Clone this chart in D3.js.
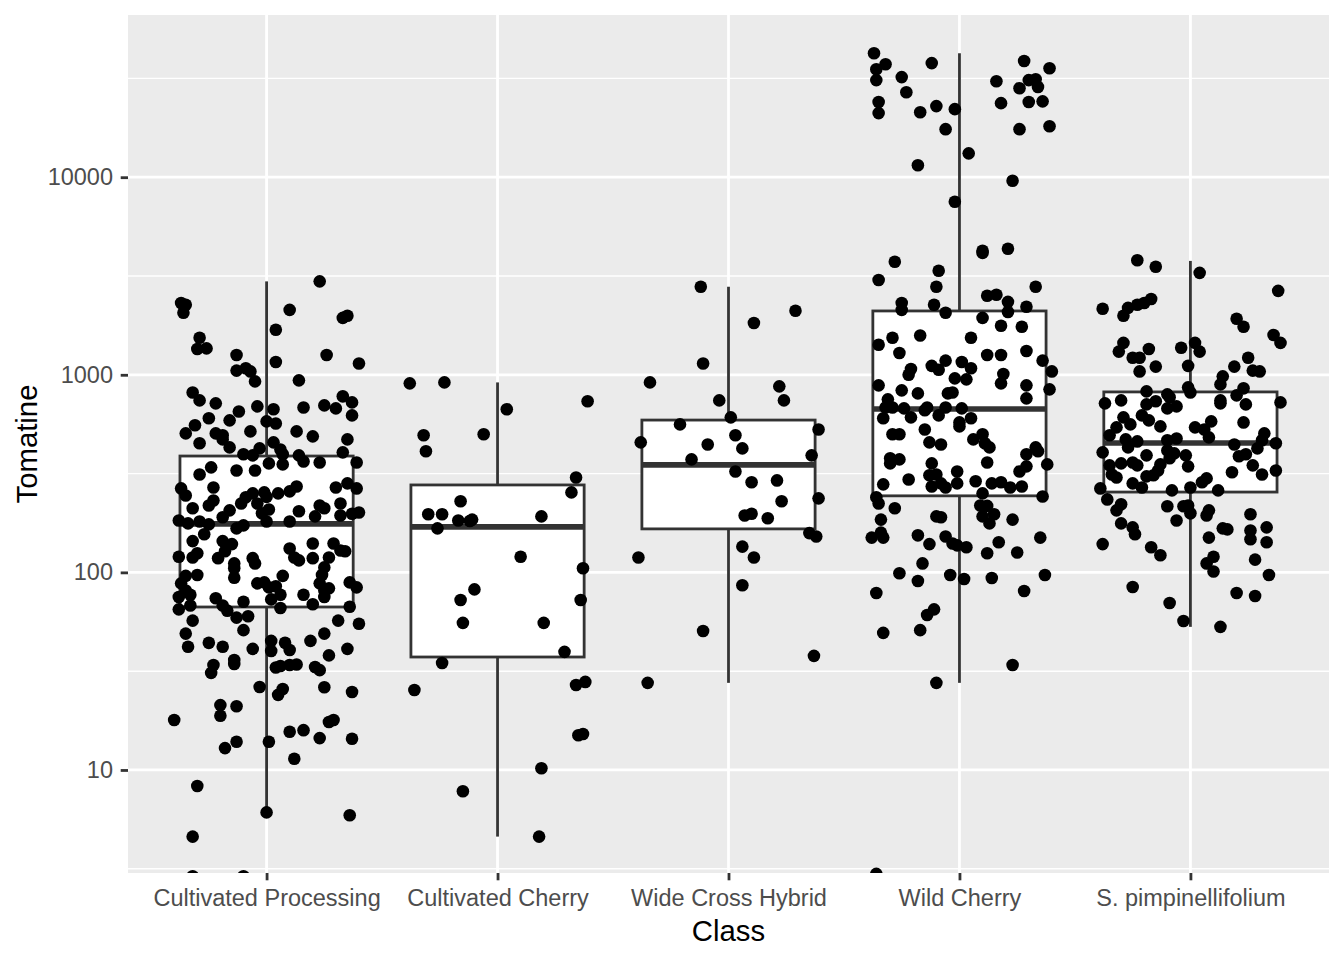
<!DOCTYPE html>
<html>
<head>
<meta charset="utf-8">
<script src="https://cdn.jsdelivr.net/npm/d3@7"></script>
<style>
  body { margin: 0; background: #ffffff; }
  #chart { width: 1344px; height: 960px; }
  .axis text { font-family: "Liberation Sans", Arial, sans-serif; font-size: 23.5px; fill: #4D4D4D; }
  .axis line { stroke: #333333; stroke-width: 2.8px; }
  .title { font-family: "Liberation Sans", Arial, sans-serif; font-size: 29.3px; fill: #000000; }
</style>
</head>
<body>
<div id="chart"></div>
<script>

// categories on the x axis
var classes = ["Cultivated Processing", "Cultivated Cherry", "Wide Cross Hybrid", "Wild Cherry", "S. pimpinellifolium"];

// y ticks (log scale)
var yTicks = [10, 100, 1000, 10000];
var yMinorTicks = [3.162, 31.62, 316.2, 3162, 31620];

// box summaries, one entry per class
var lowerWhisker = [6.1, 4.6, 27.6, 27.6, 53];
var lowerHinge   = [66.8, 37.3, 166, 244, 255];
var medians      = [176, 170, 350, 671, 452];
var upperHinge   = [388, 277, 590, 2104, 819];
var upperWhisker = [2970, 915, 2790, 42400, 3770];

// jittered points: [x jitter in class units, Tomatine]
var processingPoints = [
  [0.23,2970],[-0.37,2310],[-0.35,2260],[-0.36,2060],[0.10,2130],[0.33,1940],[0.35,1990],[0.04,1690],[-0.29,1540],[-0.30,1350],
  [-0.26,1360],[-0.13,1260],[0.26,1260],[0.40,1140],[0.04,1160],[-0.13,1050],[-0.09,1080],[-0.07,1040],[-0.05,926],[0.14,937],
  [-0.32,814],[-0.29,742],[-0.22,717],[0.33,778],[0.37,725],[0.37,623],[0.30,676],[0.25,700],[0.16,683],[-0.04,692],
  [0.03,669],[-0.12,652],[-0.16,588],[-0.25,603],[-0.31,555],[-0.35,505],[0.00,581],[0.04,567],[-0.07,517],[0.13,517],
  [0.20,488],[-0.22,505],[-0.19,494],[-0.19,471],[-0.16,429],[-0.29,450],[0.35,471],[0.03,455],[0.06,419],[0.07,396],
  [-0.03,424],[-0.10,396],[-0.06,391],[0.33,405],[0.14,391],[0.16,364],[0.23,360],[0.39,360],[-0.24,340],[-0.13,328],
  [-0.05,328],[0.01,356],[0.07,352],[-0.29,313],[-0.37,266],[-0.35,245],[-0.23,269],[-0.23,231],[-0.25,218],[-0.32,211],
  [-0.06,251],[-0.09,240],[-0.01,254],[0.00,241],[0.05,251],[0.10,257],[0.13,272],[0.30,269],[0.35,282],[0.39,266],
  [-0.11,223],[-0.16,206],[-0.19,190],[-0.04,223],[-0.02,199],[0.01,208],[0.00,181],[0.14,204],[0.23,218],[0.25,211],
  [0.21,192],[0.32,223],[0.32,194],[0.37,198],[0.40,201],[0.10,181],[-0.38,183],[-0.34,177],[-0.29,181],[-0.25,175],
  [-0.27,156],[-0.13,167],[-0.10,173],[-0.32,144],[-0.19,144],[-0.15,139],[-0.18,128],[-0.38,120],[-0.32,119],[-0.30,125],
  [-0.21,118],[-0.06,118],[-0.05,111],[0.10,132],[0.12,119],[0.14,115],[0.20,140],[0.20,118],[0.29,140],[0.32,129],
  [0.34,128],[0.27,119],[0.25,106],[0.24,97],[0.23,88],[-0.14,111],[-0.14,105],[-0.14,94],[-0.35,96],[-0.30,97],
  [-0.37,88],[-0.35,81],[-0.38,75],[-0.33,77],[-0.38,65],[-0.33,68],[-0.04,88],[-0.01,89],[0.01,84],[0.04,85],
  [0.07,96],[0.06,77],[0.02,73],[0.06,66],[0.16,77],[0.25,81],[0.27,83],[0.25,75],[0.36,89],[0.39,84],
  [-0.22,74],[-0.19,68],[-0.17,64],[-0.10,71],[0.20,69],[0.36,67],[-0.32,57],[-0.13,59],[-0.08,60],[-0.10,51],
  [0.31,57],[0.40,55],[-0.35,49],[-0.34,42],[-0.25,44],[-0.19,42],[-0.06,41],[0.02,45],[0.02,40],[0.08,44],
  [0.10,40.5],[0.19,45],[0.25,49],[0.35,41],[0.27,38],[-0.14,36],[-0.23,34],[-0.24,31],[-0.14,34.4],[0.04,33],
  [0.06,33.6],[0.10,34],[0.13,34.2],[0.21,33.2],[0.23,32],[-0.03,26.3],[0.07,25.7],[0.05,24],[0.25,26.2],[0.37,24.8],
  [-0.20,21.3],[-0.20,18.8],[-0.13,21],[-0.40,17.9],[0.27,17.5],[0.29,17.9],[0.10,15.6],[0.16,15.9],[0.23,14.5],[0.37,14.4],
  [-0.18,12.9],[-0.13,13.9],[0.01,13.9],[0.12,11.4],[-0.30,8.3],[0.00,6.1],[0.36,5.9],[-0.32,4.6],[-0.32,2.9],[-0.10,2.9]
];

var cherryPoints = [
  [-0.38,905],[-0.23,915],[0.39,734],[0.04,669],[-0.32,494],[-0.06,500],[-0.31,410],[0.34,302],[0.32,254],[-0.16,229],
  [-0.30,197],[-0.24,197],[-0.17,183],[-0.12,182],[-0.11,185],[-0.26,167],[0.19,192],[0.10,120],[0.37,105],[-0.10,82],
  [-0.16,72.5],[0.36,72.5],[-0.15,55.5],[0.20,55.5],[0.29,39.6],[-0.24,34.8],[-0.36,25.4],[0.34,26.9],[0.38,27.9],[0.35,15.0],
  [0.37,15.2],[0.19,10.2],[-0.15,7.8],[0.18,4.6]
];

var hybridPoints = [
  [-0.12,2790],[0.29,2110],[0.11,1830],[-0.11,1140],[-0.34,915],[0.22,874],[0.24,742],[-0.04,742],[0.01,609],[-0.21,561],
  [0.39,529],[-0.38,455],[0.03,494],[-0.09,444],[0.06,424],[0.36,391],[-0.16,373],[0.03,324],[0.10,286],[0.21,292],
  [0.39,237],[0.23,229],[0.07,194],[0.10,198],[0.17,188],[0.35,158],[0.38,152],[0.06,135],[0.11,119],[-0.39,119],
  [0.06,86],[-0.11,50.5],[0.37,37.8],[-0.35,27.6]
];

var wildPoints = [
  [-0.37,42400],[-0.32,37300],[-0.36,35200],[-0.36,31000],[-0.12,37800],[-0.25,32100],[-0.23,26900],[-0.35,24000],[-0.35,21100],[-0.17,21300],
  [-0.10,22900],[-0.02,22100],[-0.06,17500],[0.04,13200],[-0.18,11500],[0.23,9590],[-0.02,7510],[0.28,38700],[0.39,35600],[0.16,30600],
  [0.30,31000],[0.33,31300],[0.26,28200],[0.34,28600],[0.18,23700],[0.30,24000],[0.36,24200],[0.26,17500],[0.39,18100],[0.10,4240],
  [0.10,4140],[0.21,4340],[-0.28,3730],[-0.09,3360],[-0.35,3020],[-0.10,2790],[0.33,2790],[0.12,2510],[0.16,2540],[-0.25,2310],
  [-0.25,2130],[-0.11,2260],[-0.06,2060],[0.21,2340],[0.21,2080],[0.29,2210],[0.10,1940],[0.18,1770],[0.27,1750],[-0.29,1540],
  [-0.17,1580],[0.05,1540],[-0.35,1420],[-0.26,1290],[0.12,1260],[0.18,1260],[0.29,1320],[0.36,1180],[0.40,1040],[-0.06,1180],
  [-0.12,1110],[-0.09,1060],[0.01,1160],[0.05,1080],[-0.21,1070],[-0.22,1000],[-0.02,959],[0.03,948],[0.19,1010],[0.18,905],
  [-0.35,884],[0.29,884],[0.39,844],[-0.25,834],[-0.18,805],[-0.05,805],[-0.03,814],[-0.31,751],[0.29,760],[-0.32,683],
  [-0.29,683],[-0.24,676],[-0.14,683],[-0.15,661],[-0.06,683],[-0.09,623],[0.01,676],[-0.33,603],[-0.21,609],[0.00,574],
  [0.00,548],[0.05,603],[-0.15,529],[-0.29,500],[-0.26,500],[-0.13,455],[-0.08,444],[0.06,471],[0.10,500],[0.11,450],
  [0.13,429],[0.33,429],[0.34,410],[0.29,396],[-0.30,378],[-0.30,356],[-0.26,373],[0.12,360],[0.38,352],[-0.12,356],
  [0.29,344],[0.26,324],[-0.01,324],[-0.13,310],[-0.10,313],[-0.22,295],[-0.33,279],[-0.12,272],[-0.08,282],[-0.06,269],
  [-0.01,282],[0.07,289],[0.14,282],[0.18,286],[0.22,269],[0.27,272],[0.10,251],[0.36,242],[-0.36,240],[-0.35,223],
  [-0.28,211],[0.09,218],[0.12,217],[-0.34,185],[-0.38,150],[-0.34,159],[-0.33,150],[-0.10,192],[-0.08,190],[-0.18,154],
  [-0.13,139],[-0.06,152],[-0.03,140],[-0.01,137],[0.03,134],[0.10,192],[0.15,197],[0.13,177],[0.23,185],[0.35,150],
  [0.17,142],[0.12,125],[0.25,126],[-0.16,111],[-0.26,99],[-0.18,90.5],[-0.04,97],[0.02,92.6],[0.14,93.7],[0.37,97],
  [-0.36,78.7],[0.28,80.5],[-0.11,65],[-0.14,60.9],[-0.33,49.4],[-0.17,51],[0.23,34],[-0.10,27.6],[-0.36,2.98]
];

var pimpPoints = [
  [-0.23,3800],[-0.15,3520],[0.04,3280],[0.38,2660],[-0.38,2160],[-0.29,1990],[-0.27,2180],[-0.23,2260],[-0.20,2310],[-0.17,2420],
  [0.20,1920],[0.23,1750],[0.36,1590],[0.39,1450],[-0.29,1450],[-0.31,1310],[-0.18,1350],[-0.25,1220],[-0.22,1220],[-0.22,1040],
  [-0.15,1100],[-0.04,1370],[0.02,1450],[0.04,1310],[-0.01,1110],[0.25,1220],[0.19,1100],[0.27,1050],[0.30,1040],[0.14,982],
  [0.13,894],[-0.01,864],[0.00,814],[-0.19,824],[0.23,854],[0.20,787],[-0.37,717],[-0.30,742],[-0.19,708],[-0.15,734],
  [-0.10,796],[-0.09,769],[-0.10,676],[-0.06,692],[0.13,742],[0.13,717],[0.24,708],[0.39,725],[-0.29,609],[-0.32,542],
  [-0.35,494],[-0.26,561],[-0.21,623],[-0.18,588],[-0.13,548],[0.02,542],[0.06,529],[0.09,581],[0.08,482],[0.23,574],
  [0.32,505],[0.31,466],[-0.28,471],[-0.23,460],[-0.10,466],[-0.06,476],[0.19,444],[0.37,450],[-0.38,405],[-0.27,429],
  [-0.19,391],[-0.10,414],[-0.07,400],[-0.09,378],[-0.02,391],[-0.35,348],[-0.30,356],[-0.25,360],[-0.23,348],[-0.13,352],
  [-0.14,328],[-0.16,310],[-0.01,344],[0.21,387],[0.24,396],[0.29,424],[0.27,348],[0.18,321],[0.37,328],[0.31,313],
  [-0.34,313],[-0.32,302],[-0.19,306],[-0.25,282],[-0.21,269],[-0.39,266],[-0.08,260],[0.00,269],[0.05,286],[0.07,299],
  [0.12,260],[-0.36,234],[-0.30,221],[-0.32,206],[-0.10,216],[-0.03,216],[-0.01,218],[0.00,199],[-0.06,183],[0.08,206],
  [0.07,194],[0.26,197],[-0.30,177],[-0.25,169],[-0.24,156],[0.14,167],[0.16,165],[0.26,163],[0.26,147],[0.33,169],
  [0.33,142],[-0.38,139],[0.08,150],[-0.17,134],[-0.13,122],[0.10,120],[0.07,111],[0.10,101],[0.28,116],[0.34,97],
  [-0.25,84.4],[0.20,78.7],[0.28,76],[-0.09,70],[-0.03,56.7],[0.13,53]
];

var pointSets = [processingPoints, cherryPoints, hybridPoints, wildPoints, pimpPoints];

var width = 1344;
var height = 960;
var panel = {left: 128, right: 1329, top: 15, bottom: 873};

var svg = d3.select("#chart")
  .append("svg")
  .attr("width", width)
  .attr("height", height);

var xScale = d3.scalePoint()
  .domain(classes)
  .range([panel.left, panel.right])
  .padding(0.6);

var yScale = d3.scaleLog()
  .domain([3.01, 66200])
  .range([panel.bottom, panel.top]);

var step = xScale.step();
var boxWidth = step * 0.75;

// panel background
svg.append("rect")
  .attr("x", panel.left)
  .attr("y", panel.top)
  .attr("width", panel.right - panel.left)
  .attr("height", panel.bottom - panel.top)
  .attr("fill", "#EBEBEB");

// grid lines
svg.selectAll(".minor")
  .data(yMinorTicks)
  .enter()
  .append("line")
  .attr("x1", panel.left)
  .attr("x2", panel.right)
  .attr("y1", function(d) { return yScale(d); })
  .attr("y2", function(d) { return yScale(d); })
  .attr("stroke", "#ffffff")
  .attr("stroke-width", 1.4);

svg.selectAll(".majorY")
  .data(yTicks)
  .enter()
  .append("line")
  .attr("x1", panel.left)
  .attr("x2", panel.right)
  .attr("y1", function(d) { return yScale(d); })
  .attr("y2", function(d) { return yScale(d); })
  .attr("stroke", "#ffffff")
  .attr("stroke-width", 2.8);

svg.selectAll(".majorX")
  .data(classes)
  .enter()
  .append("line")
  .attr("x1", function(d) { return xScale(d); })
  .attr("x2", function(d) { return xScale(d); })
  .attr("y1", panel.top)
  .attr("y2", panel.bottom)
  .attr("stroke", "#ffffff")
  .attr("stroke-width", 2.8);

// clip everything drawn in the panel
svg.append("clipPath")
  .attr("id", "panelClip")
  .append("rect")
  .attr("x", panel.left)
  .attr("y", panel.top)
  .attr("width", panel.right - panel.left)
  .attr("height", panel.bottom - panel.top);

var plot = svg.append("g").attr("clip-path", "url(#panelClip)");

// boxplots
var boxes = plot.selectAll(".box")
  .data(classes)
  .enter()
  .append("g")
  .attr("class", "box");

boxes.append("line")
  .attr("x1", function(d) { return xScale(d); })
  .attr("x2", function(d) { return xScale(d); })
  .attr("y1", function(d, i) { return yScale(upperWhisker[i]); })
  .attr("y2", function(d, i) { return yScale(upperHinge[i]); })
  .attr("stroke", "#333333")
  .attr("stroke-width", 2.8);

boxes.append("line")
  .attr("x1", function(d) { return xScale(d); })
  .attr("x2", function(d) { return xScale(d); })
  .attr("y1", function(d, i) { return yScale(lowerHinge[i]); })
  .attr("y2", function(d, i) { return yScale(lowerWhisker[i]); })
  .attr("stroke", "#333333")
  .attr("stroke-width", 2.8);

boxes.append("rect")
  .attr("x", function(d) { return xScale(d) - boxWidth / 2; })
  .attr("y", function(d, i) { return yScale(upperHinge[i]); })
  .attr("width", boxWidth)
  .attr("height", function(d, i) { return yScale(lowerHinge[i]) - yScale(upperHinge[i]); })
  .attr("fill", "#ffffff")
  .attr("stroke", "#333333")
  .attr("stroke-width", 2.8);

boxes.append("line")
  .attr("x1", function(d) { return xScale(d) - boxWidth / 2; })
  .attr("x2", function(d) { return xScale(d) + boxWidth / 2; })
  .attr("y1", function(d, i) { return yScale(medians[i]); })
  .attr("y2", function(d, i) { return yScale(medians[i]); })
  .attr("stroke", "#333333")
  .attr("stroke-width", 5.6);

// jittered points
pointSets.forEach(function(set, i) {
  plot.selectAll(".pt" + i)
    .data(set)
    .enter()
    .append("circle")
    .attr("cx", function(d) { return xScale(classes[i]) + d[0] * step; })
    .attr("cy", function(d) { return yScale(d[1]); })
    .attr("r", 6.3)
    .attr("fill", "#000000");
});

// axes
var xAxis = svg.append("g")
  .attr("class", "axis")
  .attr("transform", "translate(0," + panel.bottom + ")")
  .call(d3.axisBottom(xScale).tickSize(7.3).tickPadding(9));
xAxis.select(".domain").remove();

var yAxis = svg.append("g")
  .attr("class", "axis")
  .attr("transform", "translate(" + panel.left + ",0)")
  .call(d3.axisLeft(yScale).tickValues(yTicks).tickFormat(d3.format("d")).tickSize(7.3).tickPadding(7.7));
yAxis.select(".domain").remove();

// axis titles
svg.append("text")
  .attr("class", "title")
  .attr("x", (panel.left + panel.right) / 2)
  .attr("y", 941)
  .attr("text-anchor", "middle")
  .text("Class");

svg.append("text")
  .attr("class", "title")
  .attr("transform", "translate(37," + (panel.top + panel.bottom) / 2 + ")rotate(-90)")
  .attr("text-anchor", "middle")
  .text("Tomatine");

</script>
</body>
</html>
